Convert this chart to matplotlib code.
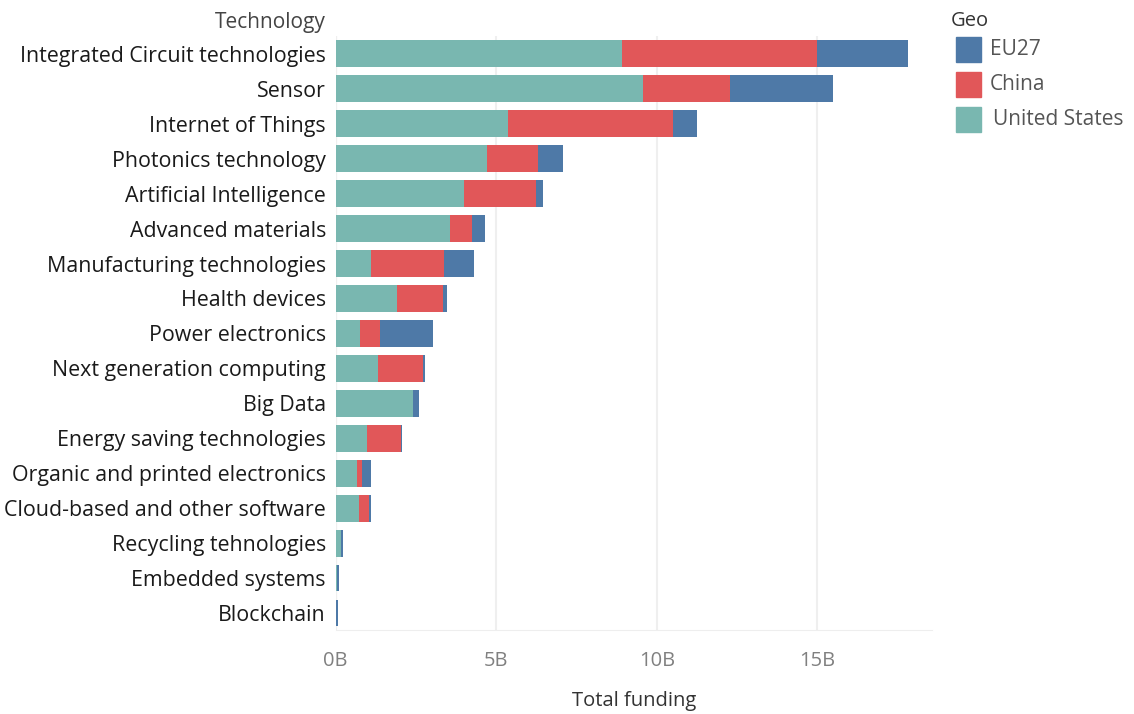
import numpy as np
import matplotlib.pyplot as plt
from matplotlib.patches import Rectangle

plt.rcParams['font.family'] = ['Open Sans', 'DejaVu Sans']

# funding per technology, in billions
tech = ['Integrated Circuit technologies', 'Sensor', 'Internet of Things',
        'Photonics technology', 'Artificial Intelligence', 'Advanced materials',
        'Manufacturing technologies', 'Health devices', 'Power electronics',
        'Next generation computing', 'Big Data', 'Energy saving technologies',
        'Organic and printed electronics', 'Cloud-based and other software',
        'Recycling tehnologies', 'Embedded systems', 'Blockchain']
us    = [8.92, 9.58, 5.36, 4.70, 4.01, 3.57, 1.09, 1.90, 0.75, 1.31, 2.40, 0.97, 0.65, 0.72, 0.16, 0.03, 0.01]
china = [6.08, 2.69, 5.15, 1.59, 2.22, 0.68, 2.27, 1.43, 0.62, 1.40, 0.00, 1.05, 0.16, 0.31, 0.00, 0.00, 0.005]
eu27  = [2.82, 3.20, 0.74, 0.78, 0.22, 0.41, 0.94, 0.13, 1.65, 0.06, 0.19, 0.05, 0.28, 0.06, 0.06, 0.06, 0.07]

geo = ['EU27', 'China', 'United States']
colors = {'United States': '#79B7B0', 'China': '#E15759', 'EU27': '#4E79A7'}

fig = plt.figure(figsize=(11.34, 7.14), dpi=100)
ax = fig.add_axes([0.296, 0.117, 0.526, 0.832])

y = np.arange(len(tech))
us = np.array(us); china = np.array(china); eu27 = np.array(eu27)
h = 0.77
ax.barh(y, us, height=h, color=colors['United States'], zorder=2)
ax.barh(y, china, left=us, height=h, color=colors['China'], zorder=2)
ax.barh(y, eu27, left=us + china, height=h, color=colors['EU27'], zorder=2)

ax.set_ylim(len(tech) - 0.5, -0.5)
ax.set_xlim(0, 18.57)
ax.set_xticks([0, 5, 10, 15])
ax.set_xticklabels(['0B', '5B', '10B', '15B'], fontsize=14.5, color='#808080')
ax.set_yticks(y)
ax.set_yticklabels(tech, fontsize=15.4, color='#1a1a1a')
ax.tick_params(length=0)
ax.tick_params(axis='x', pad=15)
ax.tick_params(axis='y', pad=7)
for s in ['top', 'right', 'left']:
    ax.spines[s].set_visible(False)
ax.spines['bottom'].set_color('#eeeeee')
ax.grid(axis='x', color='#efefef', linewidth=1.5, zorder=0)
ax.axvline(0, color='#e0e0e0', linewidth=1.5, zorder=1)
ax.set_xlabel('Total funding', fontsize=14.5, color='#333333', labelpad=14)

fig.text(0.287, 0.968, 'Technology', ha='right', va='center', fontsize=15, color='#444444')

# legend drawn by hand in figure coords
fig.text(0.838, 0.97, 'Geo', ha='left', va='center', fontsize=14.5, color='#333333')
for i, g in enumerate(geo):
    yc = 0.930 - i * 0.049
    fig.patches.append(Rectangle((0.843, yc - 0.0175), 0.022, 0.035,
                                 transform=fig.transFigure, color=colors[g]))
    fig.text(0.873 if g != 'United States' else 0.876, yc, g,
             ha='left', va='center', fontsize=15, color='#555555')

fig.savefig('out.png', dpi=100)
